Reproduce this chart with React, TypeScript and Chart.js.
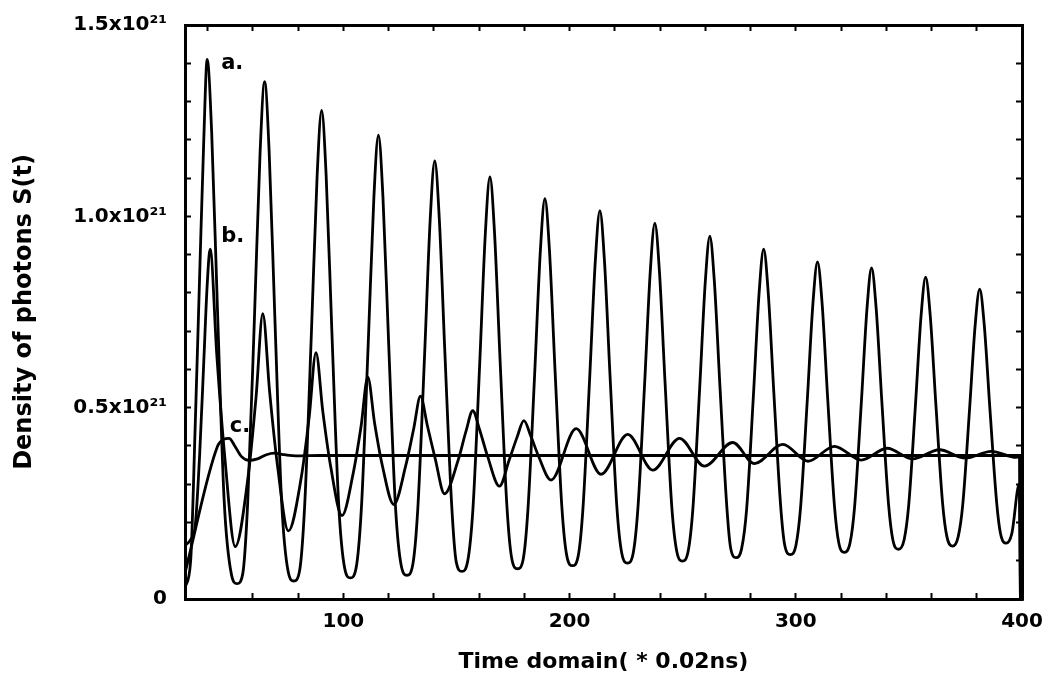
import React, { useEffect, useRef } from 'react';
import { Chart, registerables } from 'chart.js';

Chart.register(...registerables);

// Axis ranges (x in units of 0.02 ns, y in units of 10^21)
const xRange = [30, 400];
const yRange = [0, 1.5];
const xLabelValues = [100, 200, 300, 400];
const yLabelValues = [0, 0.5, 1.0, 1.5];
const yLabelTexts = ['0', '0.5x10²¹', '1.0x10²¹', '1.5x10²¹'];

const xTitle = 'Time domain( * 0.02ns)';
const yTitle = 'Density of photons S(t)';

// Curve labels
const curveNames = ['a.', 'b.', 'c.'];
const curveNameX = [46.0, 46.0, 49.8];
const curveNameY = [1.4, 0.946, 0.45];

// Curve a: strongly oscillating
const curveA: [number, number][] = [
  [30, 0.03], [32.5, 0.1], [34.5, 0.45], [36.5, 0.85], [38.3, 1.2], [39.8, 1.41],
  [41.8, 1.218], [44.3, 0.766], [47.3, 0.259], [50.5, 0.065], [53.0, 0.04], [55.5, 0.065],
  [57.7, 0.25], [60.7, 0.735], [63.2, 1.168], [65.2, 1.352], [67.2, 1.169], [69.7, 0.739], [72.7, 0.256], [75.6, 0.072], [78.1, 0.047], [80.6, 0.072],
  [82.9, 0.244], [85.9, 0.699], [88.4, 1.105], [90.4, 1.277], [92.4, 1.106], [94.9, 0.703], [97.9, 0.251], [100.6, 0.08], [103.1, 0.055], [105.6, 0.08],
  [108.0, 0.24], [111.0, 0.668], [113.5, 1.05], [115.5, 1.212], [117.5, 1.051], [120.0, 0.672], [123.0, 0.246], [125.6, 0.087], [128.1, 0.062], [130.6, 0.087],
  [132.9, 0.235], [135.9, 0.636], [138.4, 0.993], [140.4, 1.145], [142.4, 0.995], [144.9, 0.641], [147.9, 0.244], [149.9, 0.097], [152.4, 0.072], [154.9, 0.097],
  [157.3, 0.237], [160.3, 0.618], [162.8, 0.959], [164.8, 1.103], [166.8, 0.96], [169.3, 0.622], [172.3, 0.243], [174.5, 0.104], [177.0, 0.079], [179.5, 0.104],
  [181.6, 0.234], [184.6, 0.592], [187.1, 0.911], [189.1, 1.046], [191.1, 0.912], [193.6, 0.595], [196.6, 0.24], [198.8, 0.112], [201.3, 0.087], [203.8, 0.112],
  [205.9, 0.235], [208.9, 0.579], [211.4, 0.885], [213.4, 1.015], [215.4, 0.886], [217.9, 0.582], [220.9, 0.241], [223.1, 0.119], [225.6, 0.094], [228.1, 0.119],
  [230.2, 0.236], [233.2, 0.565], [235.7, 0.858], [237.7, 0.982], [239.7, 0.858], [242.2, 0.567], [245.2, 0.24], [247.4, 0.124], [249.9, 0.099], [252.4, 0.124],
  [254.5, 0.235], [257.5, 0.549], [260.0, 0.829], [262.0, 0.948], [264.0, 0.83], [266.5, 0.553], [269.5, 0.242], [271.2, 0.133], [273.6, 0.108], [276.1, 0.133],
  [278.3, 0.237], [281.3, 0.535], [283.8, 0.801], [285.8, 0.914], [287.8, 0.802], [290.3, 0.539], [293.3, 0.244], [295.1, 0.141], [297.6, 0.116], [300.1, 0.141],
  [302.1, 0.238], [305.1, 0.521], [307.6, 0.774], [309.6, 0.881], [311.6, 0.775], [314.1, 0.524], [317.1, 0.243], [319.0, 0.147], [321.5, 0.122], [324.0, 0.147],
  [326.0, 0.241], [329.0, 0.516], [331.5, 0.761], [333.5, 0.865], [335.5, 0.762], [338.0, 0.52], [341.0, 0.248], [342.9, 0.155], [345.4, 0.13], [347.9, 0.155],
  [349.9, 0.244], [352.9, 0.507], [355.4, 0.741], [357.4, 0.841], [359.4, 0.743], [361.9, 0.511], [364.9, 0.25], [366.8, 0.163], [369.3, 0.138], [371.8, 0.163],
  [373.8, 0.246], [376.8, 0.494], [379.3, 0.716], [381.3, 0.81], [383.3, 0.717], [385.8, 0.498], [388.8, 0.252], [390.5, 0.171], [393.0, 0.146], [395.5, 0.171],
  [398.8, 0.3], [399.3, 0],
];

// Curve b: damped oscillation
const curveB: [number, number][] = [
  [30, 0.14], [32.5, 0.155], [34.5, 0.19], [36.5, 0.38], [38.3, 0.62], [39.8, 0.82], [41.1, 0.914],
  [44.1, 0.634], [47.6, 0.37], [52.2, 0.137],
  [57.9, 0.32], [61.4, 0.527], [64.4, 0.746], [67.4, 0.542], [70.9, 0.348], [75.7, 0.178],
  [81.4, 0.318], [84.9, 0.476], [87.9, 0.644], [90.9, 0.491], [94.4, 0.346], [99.4, 0.218],
  [104.3, 0.327], [107.8, 0.45], [110.8, 0.58], [113.8, 0.46], [117.3, 0.347], [122.3, 0.247],
  [127.6, 0.349], [131.1, 0.445], [134.1, 0.53], [137.1, 0.454], [140.6, 0.367], [144.7, 0.275],
  [150.7, 0.362], [154.2, 0.438], [157.2, 0.492], [160.2, 0.443], [163.7, 0.374], [169.0, 0.295],
  [173.3, 0.363], [176.8, 0.423], [179.8, 0.466], [182.8, 0.427], [186.3, 0.373], [191.8, 0.311],
  [202.9, 0.445], [213.9, 0.326], [225.7, 0.43], [236.8, 0.337], [248.6, 0.42], [259.6, 0.347],
  [272.1, 0.409], [281.7, 0.354], [294.3, 0.404], [305.4, 0.36], [317.1, 0.399], [328.9, 0.363],
  [340.4, 0.394], [351.7, 0.366], [363.5, 0.39], [374.9, 0.368], [386.4, 0.386], [397.5, 0.37],
  [399.0, 0.372], [399.3, 0],
];

// Curve c: quickly settles to a steady state
const curveC: [number, number][] = [
  [30, 0.068], [44.3, 0.398], [47.0, 0.417], [49.5, 0.42], [52.0, 0.4], [55.0, 0.372],
  [58.3, 0.362], [62.0, 0.366], [66.0, 0.377], [69.5, 0.381], [74.0, 0.377], [79.0, 0.374],
  [90.0, 0.375], [399.0, 0.375], [399.3, 0],
];

const FONT = '"DejaVu Sans", "Liberation Sans", Arial, sans-serif';

const notesPlugin = {
  id: 'curveNotes',
  afterDatasetsDraw(chart: any) {
    const { ctx, scales } = chart;
    const xs = scales.x;
    const ys = scales.y;
    ctx.save();
    ctx.font = `bold 21px ${FONT}`;
    ctx.fillStyle = '#000';
    ctx.textAlign = 'left';
    ctx.textBaseline = 'middle';
    curveNames.forEach((t, i) => {
      ctx.fillText(t, xs.getPixelForValue(curveNameX[i]), ys.getPixelForValue(curveNameY[i]));
    });
    ctx.restore();
  },
};

function labelIndex(v: number, list: number[]) {
  return list.findIndex((l) => Math.abs(l - v) < 1e-6);
}

function clearPadding(s: any) {
  s.paddingTop = 0;
  s.paddingBottom = 0;
  s.paddingLeft = 0;
  s.paddingRight = 0;
}

export default function App() {
  const ref = useRef<HTMLCanvasElement | null>(null);

  useEffect(() => {
    if (!ref.current) return;
    const gridCfg = {
      drawOnChartArea: false,
      drawTicks: true,
      tickLength: -6,
      tickWidth: 2,
      tickColor: '#000',
    };
    const borderCfg = { display: true, color: '#000', width: 3 };
    const mkLine = (data: [number, number][]) => ({
      data,
      borderColor: '#000',
      borderWidth: 2.8,
      pointRadius: 0,
      fill: false,
      cubicInterpolationMode: 'monotone' as const,
    });

    const chart = new Chart(ref.current, {
      type: 'line',
      data: {
        datasets: [mkLine(curveA), mkLine(curveB), mkLine(curveC)],
      },
      options: {
        animation: false,
        responsive: false,
        devicePixelRatio: 1,
        layout: { padding: { top: 25, right: 33, bottom: 0, left: 0 } },
        plugins: { legend: { display: false }, tooltip: { enabled: false } },
        scales: {
          x: {
            type: 'linear',
            position: 'bottom',
            min: xRange[0],
            max: xRange[1],
            ticks: {
              stepSize: 20,
              autoSkip: false,
              maxRotation: 0,
              padding: 17,
              color: '#000',
              font: { family: FONT, size: 20, weight: 'bold' },
              callback: (v: any) => (labelIndex(Number(v), xLabelValues) >= 0 ? String(v) : ''),
            },
            grid: gridCfg,
            border: borderCfg,
            title: {
              display: true,
              text: xTitle,
              color: '#000',
              font: { family: FONT, size: 22, weight: 'bold' },
              padding: { top: 0, bottom: 11 },
            },
            afterFit: (s: any) => {
              s.height = 87;
              clearPadding(s);
            },
          },
          xTop: {
            type: 'linear',
            position: 'top',
            min: xRange[0],
            max: xRange[1],
            ticks: { stepSize: 20, display: false },
            grid: gridCfg,
            border: borderCfg,
            afterFit: (s: any) => {
              s.height = 0;
              clearPadding(s);
            },
          },
          y: {
            type: 'linear',
            position: 'left',
            min: yRange[0],
            max: yRange[1],
            ticks: {
              stepSize: 0.1,
              autoSkip: false,
              padding: 24,
              color: '#000',
              font: { family: FONT, size: 20, weight: 'bold' },
              callback: (v: any) => {
                const i = labelIndex(Number(v), yLabelValues);
                return i >= 0 ? yLabelTexts[i] : '';
              },
            },
            grid: gridCfg,
            border: borderCfg,
            title: {
              display: true,
              text: yTitle,
              color: '#000',
              font: { family: FONT, size: 24, weight: 'bold' },
              padding: { top: 10, bottom: 0 },
            },
            afterFit: (s: any) => {
              s.width = 185;
              clearPadding(s);
            },
          },
          yRight: {
            type: 'linear',
            position: 'right',
            min: yRange[0],
            max: yRange[1],
            ticks: { stepSize: 0.1, display: false },
            grid: gridCfg,
            border: borderCfg,
            afterFit: (s: any) => {
              s.width = 0;
              clearPadding(s);
            },
          },
        },
      } as any,
      plugins: [notesPlugin],
    });
    return () => chart.destroy();
  }, []);

  return (
    <div style={{ position: 'absolute', left: 0, top: 0, width: 1055, height: 686, background: '#fff' }}>
      <canvas ref={ref} width={1055} height={686} />
    </div>
  );
}
